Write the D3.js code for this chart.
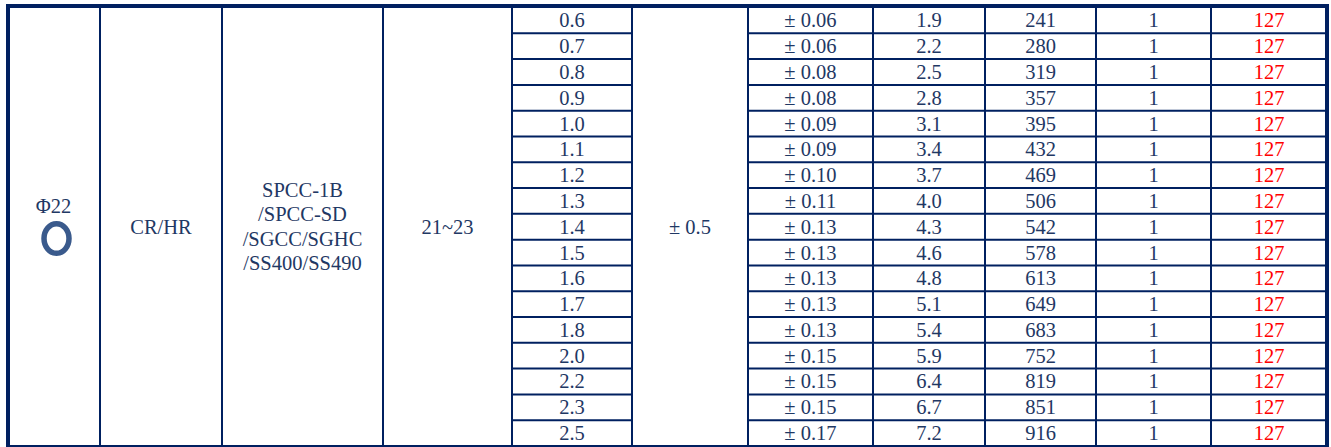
<!DOCTYPE html>
<html>
<head>
<meta charset="utf-8">
<script src="https://cdn.jsdelivr.net/npm/d3@7"></script>
<style>
  html, body { margin: 0; padding: 0; background: #fff; }
  svg { display: block; }
  text { font-family: "Liberation Serif", "Times New Roman", serif; }
</style>
</head>
<body>
<svg id="tbl" width="1331" height="447"></svg>
<script>
// merged cells (span every row)
var sizeLabel = 'Φ22';
var material = 'CR/HR';
var grades = ['SPCC-1B', '/SPCC-SD', '/SGCC/SGHC', '/SS400/SS490'];
var diamRange = '21~23';
var diamTol = '± 0.5';

// per-row columns
var thickness = ['0.6', '0.7', '0.8', '0.9', '1.0', '1.1', '1.2', '1.3', '1.4',
  '1.5', '1.6', '1.7', '1.8', '2.0', '2.2', '2.3', '2.5'];
var thickTol = ['± 0.06', '± 0.06', '± 0.08', '± 0.08', '± 0.09', '± 0.09', '± 0.10',
  '± 0.11', '± 0.13', '± 0.13', '± 0.13', '± 0.13', '± 0.13', '± 0.15', '± 0.15',
  '± 0.15', '± 0.17'];
var weight = ['1.9', '2.2', '2.5', '2.8', '3.1', '3.4', '3.7', '4.0', '4.3', '4.6',
  '4.8', '5.1', '5.4', '5.9', '6.4', '6.7', '7.2'];
var pcs = ['241', '280', '319', '357', '395', '432', '469', '506', '542', '578',
  '613', '649', '683', '752', '819', '851', '916'];
var qty = ['1', '1', '1', '1', '1', '1', '1', '1', '1', '1', '1', '1', '1', '1', '1', '1', '1'];
var stock = ['127', '127', '127', '127', '127', '127', '127', '127', '127', '127',
  '127', '127', '127', '127', '127', '127', '127'];

(function () {
  var LINE = '#002060';
  var INK = '#1f3864';
  var RED = '#ff0000';
  var FS = 20.5;

  var svg = d3.select('#tbl');

  // column edges (layout)
  var edges = [8, 100, 222, 383, 512, 632, 748, 873, 985, 1096, 1211, 1327];
  var tblTop = 6, tblBottom = 446;

  var y = d3.scaleBand()
    .domain(d3.range(thickness.length))
    .range([tblTop + 1.5, tblBottom])
    .paddingInner(0).paddingOuter(0);

  function colMid(i) { return (edges[i] + edges[i + 1]) / 2; }
  function rowBase(i) { return y(i) + y.bandwidth() / 2 + FS * 0.34; }

  // row separators, only in the un-merged columns
  var rowLines = svg.append('g').attr('class', 'row-lines');
  var spans = [[edges[4], edges[5]], [edges[6], edges[11]]];
  spans.forEach(function (s) {
    rowLines.selectAll(null)
      .data(d3.range(1, thickness.length))
      .enter()
      .append('line')
      .attr('x1', s[0]).attr('x2', s[1])
      .attr('y1', function (i) { return y(i); })
      .attr('y2', function (i) { return y(i); })
      .attr('stroke', LINE)
      .attr('stroke-width', 2);
  });

  // inner vertical lines
  svg.append('g').selectAll('line')
    .data(edges.slice(1, -1))
    .enter()
    .append('line')
    .attr('x1', function (d) { return d; })
    .attr('x2', function (d) { return d; })
    .attr('y1', tblTop).attr('y2', tblBottom)
    .attr('stroke', LINE)
    .attr('stroke-width', 2);

  // outer border: heavier top/left/right
  var b = svg.append('g').attr('class', 'border');
  var bw = edges[11] + 2 - (edges[0] - 2);
  var bh = tblBottom + 1 - (tblTop - 2);
  b.append('rect').attr('x', edges[0] - 2).attr('y', tblTop - 2)
    .attr('width', bw).attr('height', 4).attr('fill', LINE);
  b.append('rect').attr('x', edges[0] - 2).attr('y', tblTop - 2)
    .attr('width', 4).attr('height', bh).attr('fill', LINE);
  b.append('rect').attr('x', edges[11] - 2).attr('y', tblTop - 2)
    .attr('width', 4).attr('height', bh).attr('fill', LINE);
  b.append('rect').attr('x', edges[0] - 2).attr('y', tblBottom - 1)
    .attr('width', bw).attr('height', 2).attr('fill', LINE);

  // merged cells
  var midY = (tblTop + 1.5 + tblBottom) / 2;

  svg.append('text')
    .attr('x', colMid(0) - 0.5).attr('y', 213)
    .attr('text-anchor', 'middle')
    .attr('fill', INK).style('font-size', FS + 'px')
    .text(sizeLabel);

  svg.append('ellipse')
    .attr('cx', 56.5).attr('cy', 238.5)
    .attr('rx', 12.5).attr('ry', 14.8)
    .attr('fill', 'none')
    .attr('stroke', '#3a5a8c')
    .attr('stroke-width', 5.5);

  svg.append('text')
    .attr('x', colMid(1)).attr('y', midY + FS * 0.34)
    .attr('text-anchor', 'middle')
    .attr('fill', INK).style('font-size', FS + 'px')
    .text(material);

  svg.append('g').selectAll('text')
    .data(grades)
    .enter()
    .append('text')
    .attr('x', colMid(2))
    .attr('y', function (d, i) { return 196.7 + i * 24.4; })
    .attr('text-anchor', 'middle')
    .attr('fill', INK).style('font-size', FS + 'px')
    .text(function (d) { return d; });

  svg.append('text')
    .attr('x', colMid(3)).attr('y', midY + FS * 0.34)
    .attr('text-anchor', 'middle')
    .attr('fill', INK).style('font-size', FS + 'px')
    .text(diamRange);

  svg.append('text')
    .attr('x', colMid(5)).attr('y', midY + FS * 0.34)
    .attr('text-anchor', 'middle')
    .attr('fill', INK).style('font-size', FS + 'px')
    .text(diamTol);

  // per-row cells
  var cols = [
    { col: 4, vals: thickness, color: INK },
    { col: 6, vals: thickTol, color: INK },
    { col: 7, vals: weight, color: INK },
    { col: 8, vals: pcs, color: INK },
    { col: 9, vals: qty, color: INK },
    { col: 10, vals: stock, color: RED }
  ];

  cols.forEach(function (c) {
    svg.append('g').selectAll('text')
      .data(c.vals)
      .enter()
      .append('text')
      .attr('x', colMid(c.col))
      .attr('y', function (d, i) { return rowBase(i); })
      .attr('text-anchor', 'middle')
      .attr('fill', c.color)
      .style('font-size', FS + 'px')
      .text(function (d) { return d; });
  });
})();
</script>
</body>
</html>
